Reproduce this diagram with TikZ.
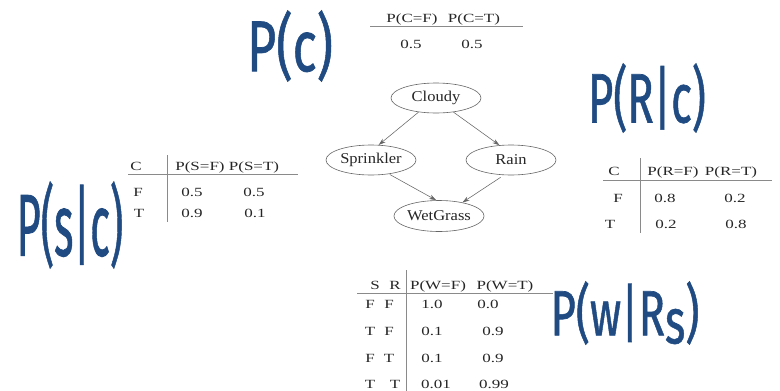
\documentclass[tikz,border=0pt]{standalone}
\usepackage{fontspec}
\setmainfont{Liberation Serif}
\newfontfamily\tabfont[FakeStretch=1.36]{Liberation Serif}
\newfontfamily\nodefont[FakeStretch=1.1]{Liberation Serif}
\newfontfamily\handfont[FakeBold=1]{Fira Sans}
\usetikzlibrary{shapes.geometric,arrows.meta}
\definecolor{ink}{HTML}{1F4B82}
\definecolor{rulecol}{HTML}{8A8A8A}
\definecolor{edgecol}{HTML}{666666}

\begin{document}
\begin{tikzpicture}[x=1pt,y=-1pt,
  var/.style={draw=edgecol, line width=0.6pt, ellipse, inner sep=0pt,
    minimum width=90pt, minimum height=30pt,
    font=\nodefont\fontsize{15}{15}\selectfont, text=black!85},
  arr/.style={draw=edgecol, line width=0.55pt, -{Stealth[length=7pt,width=4.5pt]}},
  cell/.style={anchor=base, inner sep=0pt,
    font=\tabfont\fontsize{12.5}{12.5}\selectfont, text=black!85},
  rulel/.style={draw=rulecol, line width=0.6pt},
  hand/.style={text=ink, inner sep=0pt, anchor=center}
]
\fill[white] (0,0) rectangle (780,391);
\useasboundingbox (0,0) rectangle (780,391);

% network
\node[var] (cl) at (436,98) {Cloudy};
\node[var] (sp) at (371,160) {Sprinkler};
\node[var] (rn) at (511,160) {Rain};
\node[var, minimum width=80pt, minimum height=31pt] (wg) at (439,216) {WetGrass};

\draw[arr] (cl.219) -- (sp.63);
\draw[arr] (cl.321) -- (rn.128);
\draw[arr, shorten <=1pt] (sp.322) -- (wg.100);
\draw[arr, shorten <=4pt] (rn.245) -- (wg.30);

% P(C)
\node[cell] (pcf) at (412,22) {P(C=F)};
\node[cell] (pct) at (474,22) {P(C=T)};
\draw[rulel] (370,26) -- (523,26);
\node[cell] (c1) at (411,48) {0.5};
\node[cell] (c2) at (472,48) {0.5};

% P(S|C)
\node[cell] (shc) at (136,170) {C};
\node[cell] (shf) at (200,170) {P(S=F)};
\node[cell] (sht) at (254,170) {P(S=T)};
\draw[rulel] (128,174) -- (298,174);
\draw[rulel] (167,155) -- (167,222);
\node[cell] (s1c) at (138,196) {F};
\node[cell] (s1f) at (192,196) {0.5};
\node[cell] (s1t) at (254,196) {0.5};
\node[cell] (s2c) at (139,217) {T};
\node[cell] (s2f) at (192,217) {0.9};
\node[cell] (s2t) at (255,217) {0.1};

% P(R|C)
\node[cell] (rhc) at (614,175) {C};
\node[cell] (rhf) at (673,175) {P(R=F)};
\node[cell] (rht) at (731,175) {P(R=T)};
\draw[rulel] (603,180) -- (772,180);
\draw[rulel] (640,158) -- (640,233);
\node[cell] (r1c) at (618,202) {F};
\node[cell] (r1f) at (665,202) {0.8};
\node[cell] (r1t) at (735,202) {0.2};
\node[cell] (r2c) at (610,228) {T};
\node[cell] (r2f) at (666,228) {0.2};
\node[cell] (r2t) at (736,228) {0.8};

% P(W|S,R)
\node[cell] (whs) at (375,289) {S};
\node[cell] (whr) at (395,289) {R};
\node[cell] (whf) at (438,289) {P(W=F)};
\node[cell] (wht) at (505,289) {P(W=T)};
\draw[rulel] (357,293) -- (553,293);
\draw[rulel] (406,270) -- (406,391);
\node[cell] (w1s) at (370,308) {F};
\node[cell] (w1r) at (389,308) {F};
\node[cell] (w1f) at (432,308) {1.0};
\node[cell] (w1t) at (488,308) {0.0};
\node[cell] (w2s) at (370,335) {T};
\node[cell] (w2r) at (389,335) {F};
\node[cell] (w2f) at (432,335) {0.1};
\node[cell] (w2t) at (493,335) {0.9};
\node[cell] (w3s) at (370,362) {F};
\node[cell] (w3r) at (389,362) {T};
\node[cell] (w3f) at (432,362) {0.1};
\node[cell] (w3t) at (493,362) {0.9};
\node[cell] (w4s) at (370,388) {T};
\node[cell] (w4r) at (395,388) {T};
\node[cell] (w4f) at (436,388) {0.01};
\node[cell] (w4t) at (494,388) {0.99};

% handwritten labels
\node[hand, font=\handfont\fontsize{72}{72}\selectfont] (hc) at (290,46)
  {\scalebox{0.7}[1]{P(c)}};
\node[hand, font=\handfont\fontsize{70}{70}\selectfont] (hr) at (647,98)
  {\scalebox{0.62}[1]{P(R|c)}};
\node[hand, font=\handfont\fontsize{88}{88}\selectfont] (hs) at (70,225)
  {\scalebox{0.47}[1]{P(s|c)}};
\node[hand, font=\handfont\fontsize{64}{64}\selectfont] (hw) at (625,313)
  {\scalebox{0.68}[1]{P(w|R\raisebox{-8pt}{s})}};
\end{tikzpicture}
\end{document}
